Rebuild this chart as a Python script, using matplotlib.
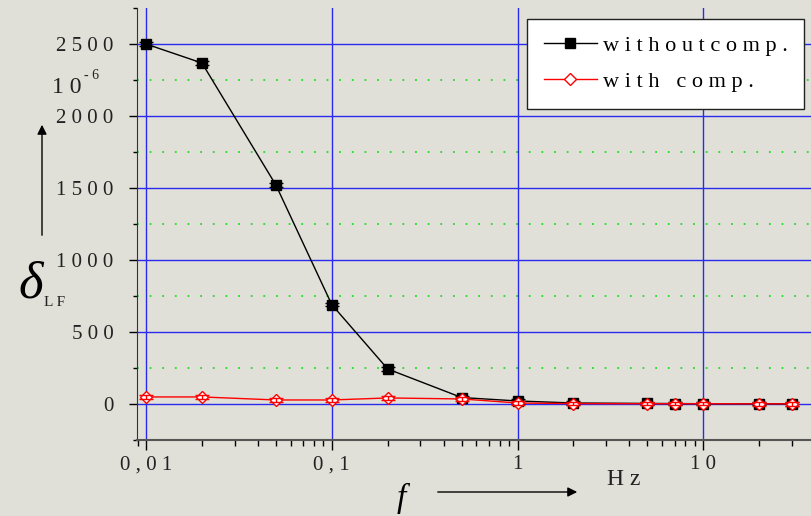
import numpy as np
import matplotlib
matplotlib.use("Agg")
import matplotlib.pyplot as plt
from matplotlib.ticker import FixedLocator, FuncFormatter, LogLocator, NullFormatter

freq = [0.01, 0.02, 0.05, 0.1, 0.2, 0.5, 1, 2, 5, 7, 10, 20, 30]
without_comp = [2500, 2368, 1521, 690, 243, 45, 21, 7, 4, 3, 2, 2, 1]
with_comp = [49, 49, 28, 28, 42, 35, 7, 3, 2, 2, 2, 1, 1]
err = 12

ytick_vals = [0, 500, 1000, 1500, 2000, 2500]
xtick_vals = [0.01, 0.1, 1, 10]
xtick_text = ["0,01", "0,1", "1", "10"]

bg = "#e0e0d8"
serif = ["Liberation Serif", "DejaVu Serif"]

def spaced(s):
    return " ".join(s)

fig = plt.figure(figsize=(8.11, 5.16), dpi=100, facecolor=bg)
ax = fig.add_axes([137 / 811, 1 - 440 / 516, 1 - 137 / 811, 432 / 516])
ax.set_facecolor(bg)

ax.set_xscale("log")
ax.set_xlim(0.00894, 38)
ax.set_ylim(-250, 2750)

# grid
for v in ytick_vals:
    ax.axhline(v, color="#2a2aee", lw=1, zorder=1)
for v in [250, 750, 1250, 1750, 2250]:
    ax.axhline(v, color="#22dd22", lw=1.3, ls=(0, (1, 6)), zorder=1)
for v in xtick_vals:
    ax.axvline(v, color="#2a2aee", lw=1, zorder=1)

# data
ax.plot(freq, without_comp, color="black", lw=1, marker="s", ms=7, mfc="black",
        mec="black", zorder=3, label=spaced("withoutcomp."))
ax.errorbar(freq, without_comp, yerr=err, fmt="none", ecolor="black", elinewidth=1,
            capsize=5, zorder=3)
ax.plot(freq, with_comp, color="red", lw=1, marker="D", ms=6, mfc="white",
        mec="red", zorder=4, label=spaced("with") + "   " + spaced("comp."))
ax.errorbar(freq, with_comp, yerr=err, fmt="none", ecolor="red", elinewidth=1,
            capsize=5, zorder=4)

# spines and ticks
for s in ["top", "right"]:
    ax.spines[s].set_visible(False)
ax.spines["left"].set_color("#333333")
ax.spines["bottom"].set_color("#555555")
ax.spines["bottom"].set_linewidth(1.5)

ax.yaxis.set_major_locator(FixedLocator(ytick_vals))
ax.yaxis.set_minor_locator(FixedLocator([-250, 250, 750, 1250, 1750, 2250, 2750]))
ax.yaxis.set_major_formatter(FuncFormatter(lambda v, p: spaced(str(int(v)))))
ax.tick_params(axis="y", which="major", length=6, width=1, pad=11, direction="out")
ax.tick_params(axis="y", which="minor", length=3, width=1, direction="out")

ax.xaxis.set_major_locator(FixedLocator(xtick_vals))
ax.xaxis.set_major_formatter(FuncFormatter(
    lambda v, p: spaced(xtick_text[p]) if p is not None and p < len(xtick_text) else ""))
ax.xaxis.set_minor_locator(LogLocator(base=10, subs=np.arange(2, 10)))
ax.xaxis.set_minor_formatter(NullFormatter())
ax.tick_params(axis="x", which="major", length=7, width=1, pad=4, direction="out")
ax.tick_params(axis="x", which="minor", length=4, width=1, direction="out")

for lab in ax.get_yticklabels() + ax.get_xticklabels():
    lab.set_fontfamily(serif)
    lab.set_fontsize(15)
    lab.set_color("#222222")

leg = ax.legend(loc="upper left", bbox_to_anchor=(0.5786, 0.9745), borderaxespad=0,
                frameon=True, fancybox=False, framealpha=1, edgecolor="#222222",
                facecolor="white", prop={"family": serif, "size": 16},
                handlelength=2.4, borderpad=0.75, labelspacing=0.68, handletextpad=0.25)
leg.get_frame().set_linewidth(1)

# axis annotations
fig.text(52, 516 - 93, spaced("10"), transform=None, fontfamily=serif, fontsize=17,
         color="#222222")
fig.text(84, 516 - 79, spaced("-6"), transform=None, fontfamily=serif, fontsize=10,
         color="#222222")
fig.text(18, 516 - 298, "δ", transform=None, fontfamily=serif, style="italic",
         fontsize=38, color="black")
fig.text(44, 516 - 306, spaced("LF"), transform=None, fontfamily=serif, fontsize=11,
         color="#222222")
ax.annotate("", xy=(42, 516 - 122), xytext=(42, 516 - 238), xycoords="figure pixels",
            textcoords="figure pixels",
            arrowprops=dict(arrowstyle="-|>", color="black", lw=1, mutation_scale=14))
ax.annotate("", xy=(580, 516 - 492), xytext=(435, 516 - 492), xycoords="figure pixels",
            textcoords="figure pixels",
            arrowprops=dict(arrowstyle="-|>", color="black", lw=1, mutation_scale=14))
fig.text(397, 516 - 507, "f", transform=None, fontfamily=serif, style="italic",
         fontsize=24, color="black", va="baseline")
fig.text(607, 516 - 485, spaced("Hz"), transform=None, fontfamily=serif, fontsize=17,
         color="#222222")

fig.savefig("out.png", dpi=100, facecolor=bg)
